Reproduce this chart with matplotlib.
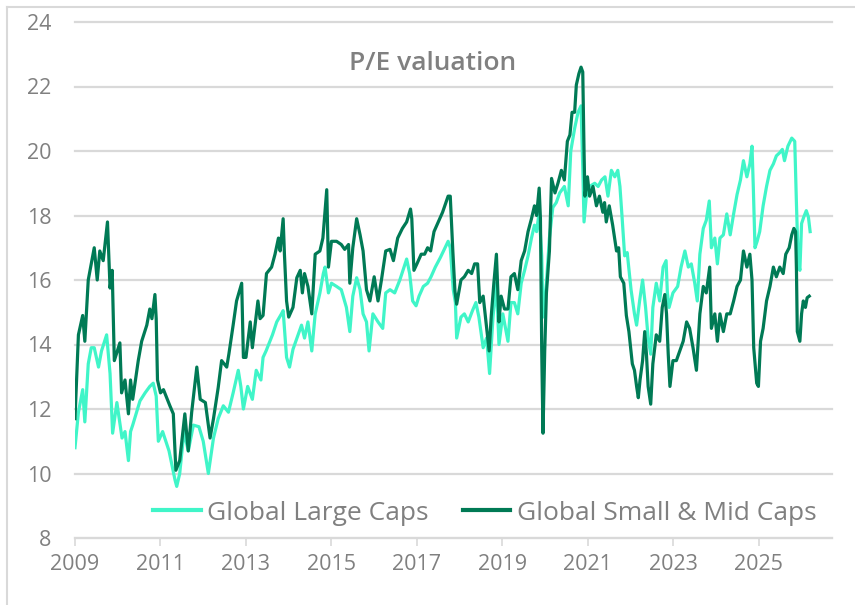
import matplotlib
matplotlib.use("Agg")
import matplotlib.pyplot as plt
from matplotlib.lines import Line2D

# Decimal-year dates and P/E readings
dates_large = [
    2009.00, 2009.08, 2009.18, 2009.23, 2009.31, 2009.38, 2009.45, 2009.55, 2009.62, 2009.74,
    2009.82, 2009.88, 2009.98, 2010.10, 2010.17, 2010.25, 2010.30, 2010.35, 2010.52, 2010.64,
    2010.75, 2010.83, 2010.90, 2010.95, 2011.05, 2011.20, 2011.34, 2011.38, 2011.45, 2011.55,
    2011.65, 2011.77, 2011.90, 2012.00, 2012.12, 2012.24, 2012.35, 2012.47, 2012.59, 2012.70,
    2012.82, 2012.88, 2012.94, 2013.04, 2013.15, 2013.24, 2013.35, 2013.40, 2013.47, 2013.56,
    2013.62, 2013.72, 2013.83, 2013.87, 2013.95, 2014.02, 2014.10, 2014.22, 2014.30, 2014.37,
    2014.45, 2014.54, 2014.62, 2014.73, 2014.81, 2014.85, 2014.93, 2015.00, 2015.12, 2015.23,
    2015.35, 2015.43, 2015.50, 2015.59, 2015.67, 2015.74, 2015.82, 2015.88, 2015.97, 2016.09,
    2016.20, 2016.27, 2016.37, 2016.48, 2016.60, 2016.76, 2016.83, 2016.90, 2016.98, 2017.05,
    2017.15, 2017.25, 2017.33, 2017.43, 2017.55, 2017.73, 2017.78, 2017.85, 2017.90, 2017.93,
    2018.03, 2018.11, 2018.20, 2018.30, 2018.38, 2018.45, 2018.55, 2018.63, 2018.70, 2018.78,
    2018.86, 2018.92, 2019.01, 2019.13, 2019.20, 2019.28, 2019.36, 2019.44, 2019.52, 2019.60,
    2019.68, 2019.75, 2019.80, 2019.86, 2019.92, 2019.95, 2020.03, 2020.10, 2020.18, 2020.26,
    2020.34, 2020.45, 2020.54, 2020.60, 2020.69, 2020.77, 2020.84, 2020.88, 2020.91, 2020.97,
    2021.04, 2021.16, 2021.24, 2021.32, 2021.40, 2021.47, 2021.55, 2021.63, 2021.70, 2021.75,
    2021.80, 2021.86, 2021.92, 2022.01, 2022.09, 2022.14, 2022.21, 2022.28, 2022.35, 2022.41,
    2022.47, 2022.52, 2022.60, 2022.68, 2022.76, 2022.83, 2022.86, 2022.90, 2022.99, 2023.10,
    2023.18, 2023.27, 2023.35, 2023.42, 2023.50, 2023.56, 2023.62, 2023.70, 2023.77, 2023.84,
    2023.89, 2023.97, 2024.03, 2024.09, 2024.17, 2024.25, 2024.33, 2024.41, 2024.49, 2024.57,
    2024.64, 2024.72, 2024.79, 2024.84, 2024.87, 2024.91, 2024.96, 2025.02, 2025.10, 2025.18,
    2025.26, 2025.34, 2025.41, 2025.49, 2025.55, 2025.60, 2025.68, 2025.77, 2025.84, 2025.88,
    2025.92, 2025.96, 2026.00, 2026.05, 2026.11, 2026.16, 2026.20,
]
pe_large = [
    10.8, 11.9, 12.6, 11.6, 13.4, 13.9, 13.9, 13.3, 13.8, 14.3,
    13.1, 11.25, 12.2, 11.1, 11.3, 10.4, 11.3, 11.5, 12.25, 12.5,
    12.7, 12.8, 12.4, 11.0, 11.3, 10.7, 9.8, 9.6, 10.0, 11.3,
    10.7, 11.5, 11.45, 11.0, 10.0, 11.1, 11.7, 12.1, 11.9, 12.5,
    13.2, 12.7, 12.0, 12.7, 12.3, 13.2, 12.9, 13.6, 13.8, 14.1,
    14.3, 14.7, 14.95, 15.05, 13.6, 13.3, 13.85, 14.3, 14.6, 14.2,
    14.7, 13.8, 14.95, 15.6, 16.2, 16.4, 15.6, 15.9, 15.8, 15.7,
    15.15, 14.4, 15.5, 16.07, 15.7, 14.95, 14.7, 13.8, 14.95, 14.7,
    14.5, 15.6, 15.7, 15.6, 16.0, 16.65, 16.2, 15.35, 15.2, 15.5,
    15.8, 15.9, 16.1, 16.4, 16.7, 17.2, 17.0, 15.7, 15.3, 14.2,
    14.85, 14.95, 14.7, 15.05, 15.3, 14.85, 13.9, 14.2, 13.1, 14.85,
    15.9, 14.0, 14.95, 14.1, 15.3, 15.3, 14.95, 15.9, 16.3, 16.75,
    17.3, 17.7, 17.5, 18.1, 16.75, 14.85, 15.9, 17.3, 18.25, 18.4,
    18.7, 18.9, 18.3, 20.0, 20.7, 21.2, 21.4, 19.5, 17.8, 18.7,
    18.9, 19.0, 18.9, 19.1, 19.2, 18.6, 19.4, 19.2, 19.4, 18.9,
    17.95, 16.75, 16.85, 15.7, 14.95, 14.6, 15.35, 16.0, 15.15, 14.2,
    13.7, 15.15, 15.9, 15.35, 16.4, 16.6, 15.6, 15.15, 15.6, 15.8,
    16.4, 16.9, 16.4, 16.5, 15.9, 15.35, 16.8, 17.6, 17.85, 18.45,
    17.0, 17.3, 16.5, 17.3, 17.4, 18.05, 17.4, 18.05, 18.65, 19.1,
    19.7, 19.2, 19.6, 20.15, 18.9, 17.0, 17.2, 17.5, 18.3, 18.9,
    19.4, 19.6, 19.85, 19.95, 20.05, 19.7, 20.15, 20.4, 20.3, 18.35,
    16.6, 16.3, 17.75, 17.95, 18.15, 17.95, 17.5,
]

dates_smid = [
    2009.00, 2009.08, 2009.18, 2009.23, 2009.31, 2009.38, 2009.45, 2009.52, 2009.58, 2009.66,
    2009.76, 2009.82, 2009.87, 2009.92, 2010.05, 2010.09, 2010.17, 2010.25, 2010.30, 2010.35,
    2010.48, 2010.56, 2010.68, 2010.75, 2010.80, 2010.87, 2010.90, 2010.93, 2011.00, 2011.07,
    2011.22, 2011.30, 2011.36, 2011.45, 2011.57, 2011.65, 2011.73, 2011.85, 2011.93, 2012.05,
    2012.16, 2012.24, 2012.35, 2012.43, 2012.55, 2012.60, 2012.70, 2012.78, 2012.90, 2012.94,
    2013.00, 2013.10, 2013.15, 2013.28, 2013.33, 2013.40, 2013.48, 2013.60, 2013.68, 2013.76,
    2013.80, 2013.87, 2013.90, 2013.95, 2014.00, 2014.10, 2014.19, 2014.27, 2014.32, 2014.37,
    2014.45, 2014.54, 2014.62, 2014.73, 2014.80, 2014.89, 2014.93, 2015.00, 2015.12, 2015.23,
    2015.31, 2015.40, 2015.43, 2015.50, 2015.59, 2015.67, 2015.74, 2015.82, 2015.90, 2016.00,
    2016.09, 2016.17, 2016.27, 2016.37, 2016.45, 2016.55, 2016.66, 2016.76, 2016.85, 2016.88,
    2016.93, 2017.00, 2017.10, 2017.18, 2017.25, 2017.32, 2017.40, 2017.50, 2017.60, 2017.73,
    2017.78, 2017.84, 2017.89, 2017.93, 2018.03, 2018.11, 2018.20, 2018.28, 2018.35, 2018.42,
    2018.47, 2018.55, 2018.60, 2018.69, 2018.74, 2018.80, 2018.86, 2018.92, 2018.97, 2019.05,
    2019.13, 2019.20, 2019.28, 2019.36, 2019.44, 2019.52, 2019.60, 2019.68, 2019.75, 2019.80,
    2019.86, 2019.89, 2019.92, 2019.95, 2019.99, 2020.03, 2020.10, 2020.15, 2020.23, 2020.30,
    2020.38, 2020.45, 2020.52, 2020.58, 2020.63, 2020.69, 2020.73, 2020.79, 2020.84, 2020.88,
    2020.91, 2020.93, 2020.99, 2021.04, 2021.12, 2021.20, 2021.27, 2021.35, 2021.39, 2021.43,
    2021.50, 2021.58, 2021.67, 2021.72, 2021.76, 2021.84, 2021.90, 2021.96, 2022.04, 2022.09,
    2022.14, 2022.18, 2022.22, 2022.28, 2022.33, 2022.37, 2022.41, 2022.47, 2022.52, 2022.60,
    2022.68, 2022.74, 2022.80, 2022.84, 2022.88, 2022.92, 2022.99, 2023.07, 2023.15, 2023.23,
    2023.31, 2023.38, 2023.46, 2023.54, 2023.62, 2023.70, 2023.77, 2023.85, 2023.89, 2023.97,
    2024.03, 2024.09, 2024.17, 2024.25, 2024.33, 2024.41, 2024.49, 2024.57, 2024.64, 2024.72,
    2024.79, 2024.84, 2024.88, 2024.95, 2024.99, 2025.04, 2025.10, 2025.18, 2025.26, 2025.34,
    2025.41, 2025.49, 2025.57, 2025.63, 2025.71, 2025.77, 2025.82, 2025.86, 2025.88, 2025.90,
    2025.96, 2026.00, 2026.04, 2026.09, 2026.13, 2026.18,
]
pe_smid = [
    11.7, 14.3, 14.9, 14.1, 16.0, 16.5, 17.0, 16.0, 16.9, 16.6,
    17.8, 15.75, 16.3, 13.5, 14.05, 12.5, 12.9, 11.85, 12.9, 12.3,
    13.5, 14.1, 14.6, 15.1, 14.8, 15.55, 14.8, 12.9, 12.5, 12.6,
    12.1, 11.85, 10.1, 10.4, 11.85, 10.7, 11.9, 13.3, 12.3, 12.2,
    11.1, 11.7, 12.66, 13.5, 13.3, 13.7, 14.6, 15.35, 15.9, 13.6,
    13.6, 14.7, 13.9, 15.35, 14.8, 14.9, 16.2, 16.4, 16.8, 17.3,
    16.9, 17.9, 16.8, 15.35, 14.85, 15.15, 16.07, 16.3, 15.6, 16.2,
    15.8, 14.95, 16.8, 16.9, 17.3, 18.8, 16.4, 17.2, 17.2, 17.1,
    16.95, 17.1, 15.9, 17.0, 17.9, 17.4, 16.9, 15.7, 15.35, 16.1,
    15.35, 16.0, 16.9, 16.95, 16.6, 17.3, 17.6, 17.8, 18.2, 17.9,
    16.3, 16.5, 16.8, 16.8, 17.0, 16.9, 17.5, 17.8, 18.1, 18.6,
    18.6, 16.9, 15.65, 15.25, 16.0, 16.1, 16.3, 16.2, 16.5, 16.5,
    15.3, 15.5, 14.9, 13.8, 14.9, 15.9, 16.8, 14.7, 15.5, 15.1,
    15.1, 16.1, 16.2, 15.7, 16.6, 16.9, 17.5, 17.9, 18.3, 18.0,
    18.85, 17.9, 13.8, 11.25, 13.8, 15.6, 16.9, 19.15, 18.7, 19.0,
    19.4, 19.1, 20.3, 20.5, 21.2, 21.2, 22.05, 22.4, 22.6, 22.45,
    20.0, 18.6, 19.2, 18.6, 18.9, 18.3, 18.6, 18.1, 18.4, 17.8,
    18.3, 17.7, 16.9, 17.0, 16.1, 15.9, 14.9, 14.4, 13.4, 13.2,
    12.7, 12.35, 12.9, 13.5, 14.4, 13.7, 12.7, 12.15, 13.4, 14.3,
    14.1, 15.15, 15.55, 14.95, 13.7, 12.7, 13.5, 13.5, 13.8, 14.1,
    14.7, 14.5, 13.9, 13.2, 14.95, 15.8, 15.6, 16.4, 14.5, 14.95,
    14.1, 14.95, 14.4, 14.95, 14.95, 15.35, 15.8, 16.0, 16.9, 16.4,
    16.8, 16.0, 13.9, 12.8, 12.7, 14.1, 14.5, 15.35, 15.8, 16.4,
    16.1, 16.4, 16.2, 16.8, 17.0, 17.4, 17.6, 17.5, 16.3, 14.4,
    14.1, 14.95, 15.35, 15.15, 15.45, 15.5,
]

year_ticks = [2009, 2011, 2013, 2015, 2017, 2019, 2021, 2023, 2025]
pe_ticks = [8, 10, 12, 14, 16, 18, 20, 22, 24]

light_green = "#40F5C8"
dark_green = "#007A55"
grey_text = "#808080"
grid_grey = "#D9D9D9"

plt.rcParams["font.family"] = ["Open Sans", "DejaVu Sans"]

fig = plt.figure(figsize=(8.55, 6.05), dpi=100)
ax = fig.add_axes([75 / 855, 1 - 538 / 605, 756.5 / 855, 516 / 605])

ax.plot(dates_large, pe_large, color=light_green, linewidth=2.3,
        solid_joinstyle="round", label="Global Large Caps")
ax.plot(dates_smid, pe_smid, color=dark_green, linewidth=2.3,
        solid_joinstyle="round", label="Global Small & Mid Caps")

ax.set_xlim(2009, 2026.7)
ax.set_ylim(8, 24)
ax.set_xticks(year_ticks)
ax.set_xticklabels([str(y) for y in year_ticks])
ax.set_yticks(pe_ticks)

for side in ["top", "right", "left"]:
    ax.spines[side].set_visible(False)
ax.spines["bottom"].set_color(grid_grey)
ax.spines["bottom"].set_linewidth(1.5)

ax.grid(axis="y", color=grid_grey, linewidth=1.6)
ax.set_axisbelow(True)
for gl in ax.get_ygridlines():
    gl.set_clip_on(False)

ax.tick_params(axis="y", length=0, pad=17, labelsize=15.5, labelcolor=grey_text)
ax.tick_params(axis="x", length=5.5, width=1.2, color=grid_grey, pad=6,
               labelsize=15.5, labelcolor=grey_text)

ax.text(0.473, 0.9205, "P/E valuation", transform=ax.transAxes,
        ha="center", va="center", fontsize=19, fontweight="semibold", color=grey_text)

leg = fig.legend(loc="center left", bbox_to_anchor=(153 / 855, 1 - 513 / 605),
                 ncol=2, frameon=False, fontsize=19, handlelength=1.8,
                 handletextpad=0.25, columnspacing=1.3, borderpad=0, borderaxespad=0)
for txt in leg.get_texts():
    txt.set_color(grey_text)
for h in leg.get_lines():
    h.set_linewidth(3)

# thin frame around the chart area (top and left edges visible)
fig.add_artist(Line2D([7 / 855, 1.0], [1 - 7 / 605, 1 - 7 / 605],
                      color=grid_grey, linewidth=1.5, transform=fig.transFigure))
fig.add_artist(Line2D([7 / 855, 7 / 855], [0.0, 1 - 7 / 605],
                      color=grid_grey, linewidth=1.5, transform=fig.transFigure))

fig.savefig("out.png", dpi=100)
